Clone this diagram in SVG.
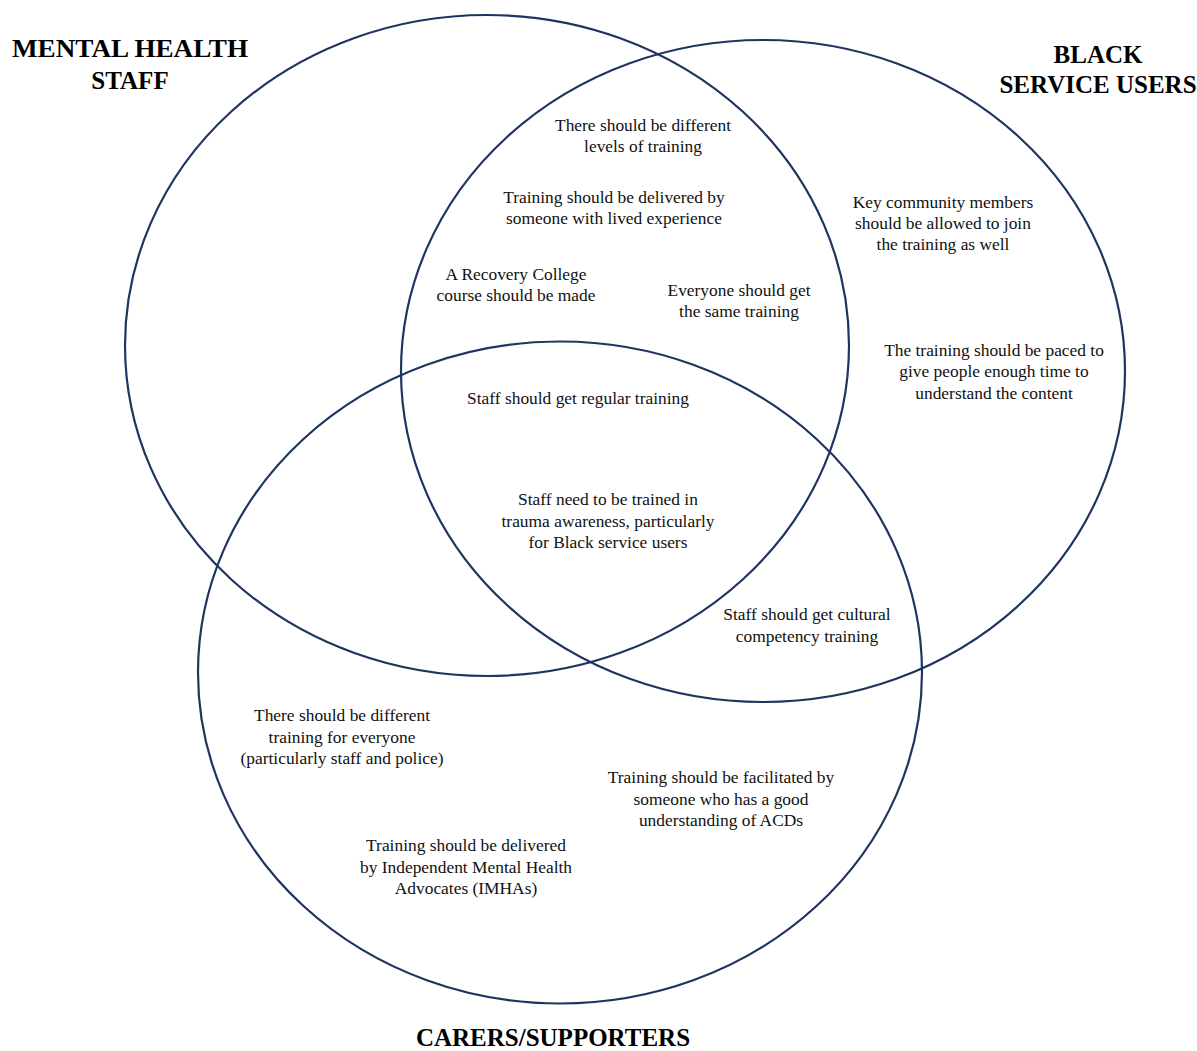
<svg xmlns="http://www.w3.org/2000/svg" width="1197" height="1051" viewBox="0 0 1197 1051">
<style>
.c{fill:none;stroke:#1f3560;stroke-width:2.2}
.t{font-family:"Liberation Serif","Times New Roman",serif;font-size:17.4px;fill:#111;text-anchor:middle}
.h{font-family:"Liberation Serif","Times New Roman",serif;font-size:25px;font-weight:bold;fill:#000;text-anchor:middle}
</style>
<rect width="1197" height="1051" fill="#fff"/>
<g id="sets">
<ellipse id="staff" class="c" cx="487" cy="345.5" rx="362" ry="330.5"/>
<ellipse id="users" class="c" cx="763" cy="371" rx="362" ry="331"/>
<ellipse id="carers" class="c" cx="560" cy="672.5" rx="362" ry="331"/>
</g>
<g id="labels">
<text class="h" x="130" y="57" textLength="236" lengthAdjust="spacingAndGlyphs">MENTAL HEALTH</text>
<text class="h" x="130" y="89">STAFF</text>
<text class="h" x="1098" y="63">BLACK</text>
<text class="h" x="1098" y="93">SERVICE USERS</text>
<text class="h" x="553" y="1046">CARERS/SUPPORTERS</text>
</g>
<g id="items">
<text class="t" x="643" y="131">There should be different</text>
<text class="t" x="643" y="152">levels of training</text>
<text class="t" x="614" y="203">Training should be delivered by</text>
<text class="t" x="614" y="224">someone with lived experience</text>
<text class="t" x="943" y="208">Key community members</text>
<text class="t" x="943" y="229">should be allowed to join</text>
<text class="t" x="943" y="250">the training as well</text>
<text class="t" x="516" y="280">A Recovery College</text>
<text class="t" x="516" y="301">course should be made</text>
<text class="t" x="739" y="296">Everyone should get</text>
<text class="t" x="739" y="317">the same training</text>
<text class="t" x="994" y="356">The training should be paced to</text>
<text class="t" x="994" y="377">give people enough time to</text>
<text class="t" x="994" y="399">understand the content</text>
<text class="t" x="578" y="404">Staff should get regular training</text>
<text class="t" x="608" y="505">Staff need to be trained in</text>
<text class="t" x="608" y="527">trauma awareness, particularly</text>
<text class="t" x="608" y="548">for Black service users</text>
<text class="t" x="807" y="620">Staff should get cultural</text>
<text class="t" x="807" y="642">competency training</text>
<text class="t" x="342" y="721">There should be different</text>
<text class="t" x="342" y="743">training for everyone</text>
<text class="t" x="342" y="764">(particularly staff and police)</text>
<text class="t" x="721" y="783">Training should be facilitated by</text>
<text class="t" x="721" y="805">someone who has a good</text>
<text class="t" x="721" y="826">understanding of ACDs</text>
<text class="t" x="466" y="851">Training should be delivered</text>
<text class="t" x="466" y="873">by Independent Mental Health</text>
<text class="t" x="466" y="894">Advocates (IMHAs)</text>
</g>
</svg>
